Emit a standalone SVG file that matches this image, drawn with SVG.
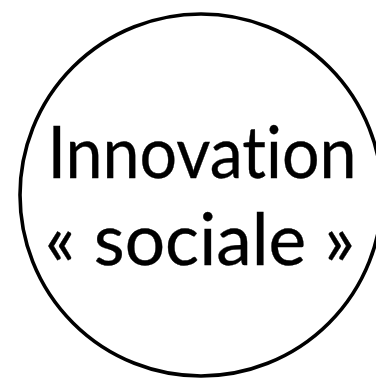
<svg xmlns="http://www.w3.org/2000/svg" width="376" height="380" viewBox="0 0 376 380">
<style>
.lbl{font-family:"Lato","Open Sans","DejaVu Sans",sans-serif;font-size:72px;fill:#000;stroke:#000;stroke-width:0.35px;text-anchor:middle;font-variant-ligatures:none;font-feature-settings:"liga" 0}
</style>
<rect width="376" height="380" fill="#fff"/>
<g id="node-innovation-sociale">
<circle cx="201" cy="195" r="181" fill="none" stroke="#000" stroke-width="3.6"/>
<text class="lbl" x="202" y="178" textLength="309" lengthAdjust="spacingAndGlyphs">Innovation</text>
<text class="lbl" x="200" y="265" textLength="310" lengthAdjust="spacingAndGlyphs">« sociale »</text>
</g>
</svg>
